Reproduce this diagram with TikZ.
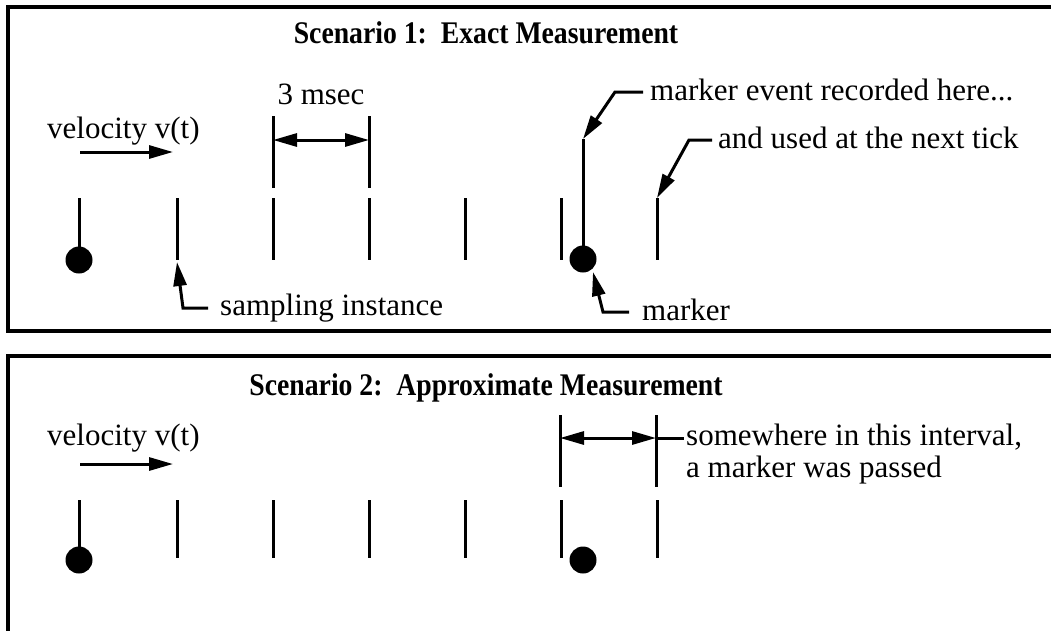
\documentclass[tikz,border=0pt]{standalone}
\usepackage{fontspec}
\setmainfont{Liberation Serif}
\newfontfamily\headfont[FakeStretch=0.88]{Liberation Serif}
\usetikzlibrary{arrows.meta}
\begin{document}
\begin{tikzpicture}[x=1pt,y=-1pt,
  frame/.style={line width=3.4pt},
  tick/.style={line width=3pt},
  tip/.tip={Triangle[length=24pt,width=13pt]},
  lead/.style={line width=3pt,-tip},
  dimline/.style={line width=3pt,tip-tip},
  txt/.style={font=\fontsize{31}{36}\selectfont,inner sep=0pt,anchor=base west},
  ttl/.style={font=\headfont\fontsize{31.5}{36}\selectfont\bfseries,inner sep=0pt,anchor=base},
  dot/.style={circle,fill,inner sep=0pt,minimum size=27pt},
]
\useasboundingbox (0,0) rectangle (1051,630);
\begin{scope}
\clip (0,0) rectangle (1051,630);

% ---------- panel 1 ----------
\draw[frame] (1060,7) -- (8,7) -- (8,331) -- (1060,331);
\node[ttl] (title1) at (486,43) {Scenario 1:\ \ Exact Measurement};

% velocity
\node[txt] (vel1) at (47,138) {velocity v(t)};
\coordinate (va1) at (80,152);
\coordinate (vb1) at (173,152);
\draw[lead] (va1) -- (vb1);

% sampling ticks
\node[dot] (d1) at (79,260) {};
\coordinate (s1) at (79,198);
\draw[tick] (s1) -- (d1.center);
\foreach \i/\x in {2/177,3/273,4/369,5/465,6/561,7/657}{
  \coordinate (p\i top) at (\x,198);
  \coordinate (p\i bot) at (\x,260);
  \draw[tick] (p\i top) -- (p\i bot);
}

% 3 msec dimension
\coordinate (ma) at (273,116);
\coordinate (mb) at (273,188);
\coordinate (mc) at (369,116);
\coordinate (md) at (369,188);
\draw[tick] (ma) -- (mb);
\draw[tick] (mc) -- (md);
\coordinate (ml) at (273,140);
\coordinate (mr) at (369,140);
\draw[dimline] (ml) -- (mr);
\node[txt,anchor=base] (msec) at (321,104) {3 msec};

% marker with recording line
\node[dot] (d2) at (583,259) {};
\coordinate (rec) at (583,139);
\draw[tick] (d2.center) -- (rec);

% annotations
\node[txt] (lab1) at (650,100) {marker event recorded here...};
\coordinate (l1a) at (643,92);
\coordinate (l1b) at (615,92);
\draw[lead] (l1a) -- (l1b) -- (rec);

\node[txt] (lab2) at (718,148) {and used at the next tick};
\coordinate (l2a) at (712,140);
\coordinate (l2b) at (689,140);
\draw[lead] (l2a) -- (l2b) -- (p7top);

\node[txt] (lab3) at (220,315) {sampling instance};
\coordinate (l3a) at (208,308);
\coordinate (l3b) at (183,308);
\coordinate (l3c) at (177,262);
\draw[lead] (l3a) -- (l3b) -- (l3c);

\node[txt] (lab4) at (642,320) {marker};
\coordinate (l4a) at (629,312);
\coordinate (l4b) at (603,312);
\coordinate (l4c) at (593,272);
\draw[lead] (l4a) -- (l4b) -- (l4c);

% ---------- panel 2 ----------
\draw[frame] (1060,356) -- (8,356) -- (8,640);
\node[ttl] (title2) at (486,395) {Scenario 2:\ \ Approximate Measurement};

\node[txt] (vel2) at (47,445) {velocity v(t)};
\coordinate (va2) at (80,464);
\coordinate (vb2) at (173,464);
\draw[lead] (va2) -- (vb2);

\node[dot] (e1) at (79,560) {};
\coordinate (q1) at (79,500);
\draw[tick] (q1) -- (e1.center);
\foreach \i/\x in {2/177,3/273,4/369,5/465,6/561,7/657}{
  \coordinate (q\i top) at (\x,500);
  \coordinate (q\i bot) at (\x,558);
  \draw[tick] (q\i top) -- (q\i bot);
}
\node[dot] (e2) at (583,560) {};

% interval
\coordinate (ia) at (560,415);
\coordinate (ib) at (560,487);
\coordinate (ic) at (656,415);
\coordinate (id) at (656,487);
\draw[tick] (ia) -- (ib);
\draw[tick] (ic) -- (id);
\coordinate (il) at (560,438);
\coordinate (ir) at (656,438);
\draw[dimline] (il) -- (ir);
\coordinate (ie) at (684,438);
\draw[tick] (ir) -- (ie);
\node[txt] (lab5) at (686,445) {somewhere in this interval,};
\node[txt] (lab6) at (686,477) {a marker was passed};
\end{scope}
\end{tikzpicture}
\end{document}
